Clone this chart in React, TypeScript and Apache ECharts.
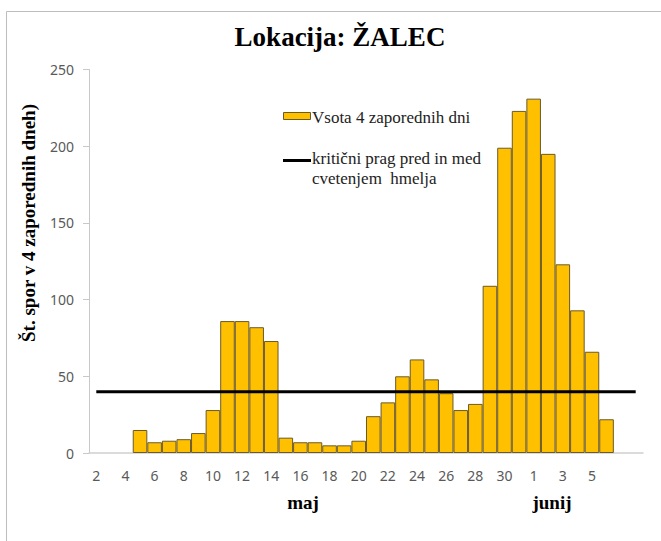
import React, { useEffect, useRef } from "react";
import * as echarts from "echarts";

const categories = [
  "2", "3", "4", "5", "6", "7", "8", "9", "10", "11", "12", "13", "14", "15", "16", "17",
  "18", "19", "20", "21", "22", "23", "24", "25", "26", "27", "28", "29", "30", "31",
  "1", "2", "3", "4", "5", "6", "7", "8",
];

const sporValues: (number | null)[] = [
  null, null, null, 15, 7, 8, 9, 13, 28, 86, 86, 82, 73, 10, 7, 7,
  5, 5, 8, 24, 33, 50, 61, 48, 39, 28, 32, 109, 199, 223,
  231, 195, 123, 93, 66, 22, null, null,
];

const CRITICAL_THRESHOLD = 40;
const thresholdValues = categories.map(() => CRITICAL_THRESHOLD);

const yTicks = { min: 0, max: 250, interval: 50 };

const titleText = "Lokacija: ŽALEC";
const yAxisTitle = "Št. spor v 4 zaporednih dneh)";
const barSeriesName = "Vsota 4 zaporednih dni";
const lineSeriesName = "kritični prag pred in med cvetenjem  hmelja";
const lineLegendLines = ["kritični prag pred in med", "cvetenjem  hmelja"];
const monthLabels = ["maj", "junij"];

const SERIF = "'Liberation Serif', 'DejaVu Serif', serif";
const SANS = "'Noto Sans', 'Liberation Sans', sans-serif";

export default function App() {
  const ref = useRef<HTMLDivElement>(null);

  useEffect(() => {
    if (!ref.current) return;
    const chart = echarts.init(ref.current, null, { renderer: "svg" });
    const legendFont = `17px ${SERIF}`;
    const monthFont = `bold 19px ${SERIF}`;
    chart.setOption({
      animation: false,
      backgroundColor: "#ffffff",
      title: {
        text: titleText,
        left: 335,
        top: 18,
        textAlign: "center",
        textStyle: { fontFamily: SERIF, fontWeight: "bold", fontSize: 27, color: "#000" },
      },
      grid: { left: 89, right: 18, top: 69.5, bottom: 88 },
      xAxis: {
        type: "category",
        data: categories,
        boundaryGap: true,
        axisLine: { show: true, lineStyle: { color: "#d0d0d0", width: 1.5 } },
        axisTick: { show: false },
        axisLabel: {
          interval: (index: number) => index % 2 === 0 && index <= 34,
          margin: 15,
          fontFamily: SANS,
          fontSize: 14,
          color: "#595959",
        },
      },
      yAxis: {
        type: "value",
        min: yTicks.min,
        max: yTicks.max,
        interval: yTicks.interval,
        axisLine: { show: true, lineStyle: { color: "#c8c8c8" } },
        axisTick: { show: true, inside: false, length: 6, lineStyle: { color: "#c8c8c8" } },
        splitLine: { show: false },
        axisLabel: { margin: 15, fontFamily: SANS, fontSize: 14, color: "#595959" },
      },
      series: [
        {
          name: barSeriesName,
          type: "bar",
          data: sporValues,
          barCategoryGap: "0%",
          itemStyle: { color: "#FFC000", borderColor: "#6b5a2a", borderWidth: 1 },
        },
        {
          name: lineSeriesName,
          type: "line",
          data: thresholdValues,
          symbol: "none",
          lineStyle: { color: "#000", width: 3 },
          z: 5,
        },
      ],
      graphic: [
        {
          type: "rect",
          shape: { x: 6.5, y: 11.5, width: 800, height: 800 },
          style: { fill: "none", stroke: "#bdbdbd", lineWidth: 1 },
          silent: true,
        },
        {
          type: "text",
          x: 28,
          y: 223,
          rotation: Math.PI / 2,
          style: {
            text: yAxisTitle,
            font: `bold 19px ${SERIF}`,
            fill: "#000",
            align: "center",
            verticalAlign: "middle",
          },
        },
        {
          type: "rect",
          shape: { x: 283.5, y: 112.5, width: 27, height: 7 },
          style: { fill: "#FFC000", stroke: "#6b5a2a", lineWidth: 1 },
        },
        {
          type: "text",
          x: 312,
          y: 117,
          style: {
            text: barSeriesName,
            font: legendFont,
            fill: "#222",
            align: "left",
            verticalAlign: "middle",
          },
        },
        {
          type: "line",
          shape: { x1: 283, y1: 160.5, x2: 311, y2: 160.5 },
          style: { stroke: "#000", lineWidth: 3 },
        },
        {
          type: "text",
          x: 312,
          y: 158,
          style: {
            text: lineLegendLines[0],
            font: legendFont,
            fill: "#222",
            align: "left",
            verticalAlign: "middle",
          },
        },
        {
          type: "text",
          x: 312,
          y: 178,
          style: {
            text: lineLegendLines[1],
            font: legendFont,
            fill: "#222",
            align: "left",
            verticalAlign: "middle",
          },
        },
        {
          type: "text",
          x: 303,
          y: 502,
          style: {
            text: monthLabels[0],
            font: monthFont,
            fill: "#000",
            align: "center",
            verticalAlign: "middle",
          },
        },
        {
          type: "text",
          x: 552,
          y: 502,
          style: {
            text: monthLabels[1],
            font: monthFont,
            fill: "#000",
            align: "center",
            verticalAlign: "middle",
          },
        },
      ],
    });
    return () => chart.dispose();
  }, []);

  return (
    <div
      ref={ref}
      style={{ position: "absolute", left: 0, top: 0, width: 661, height: 541 }}
    />
  );
}
